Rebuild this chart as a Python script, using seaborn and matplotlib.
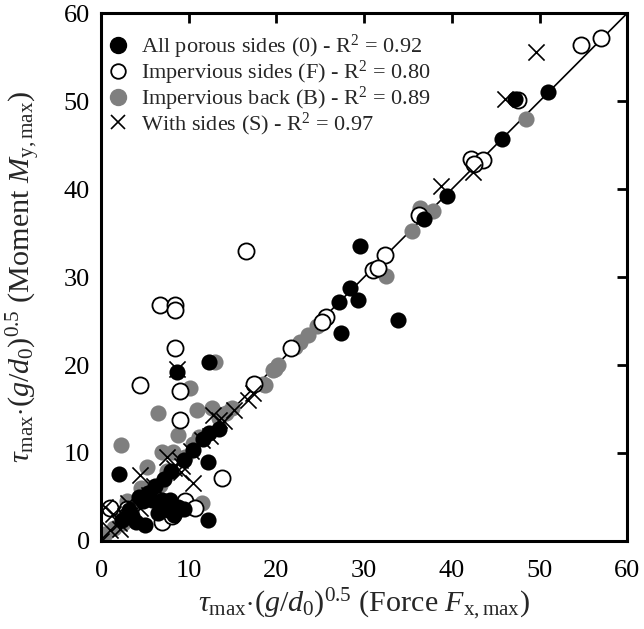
import matplotlib
matplotlib.use("Agg")
import matplotlib.pyplot as plt
import seaborn as sns
import pandas as pd
from matplotlib.lines import Line2D

sns.set_theme(style="white")
plt.rcParams["font.family"] = ["Liberation Serif", "DejaVu Serif"]
plt.rcParams["mathtext.fontset"] = "custom"
plt.rcParams["mathtext.rm"] = "Liberation Serif"
plt.rcParams["mathtext.it"] = "Liberation Serif:italic"
plt.rcParams["mathtext.bf"] = "Liberation Serif:bold"

# ---- data ----
porous_x = [51.0, 47.2, 45.7, 39.5, 36.8, 29.5, 28.4, 27.1, 29.3, 33.8, 27.4, 12.3, 8.6, 13.4, 12.2,
            2.0, 4.3, 5.4, 5.8, 6.9, 7.9, 8.8, 9.4, 12.2, 5.0, 3.5, 2.4, 4.8, 6.2, 7.2, 8.0, 9.5,
            10.5, 3.2, 6.5, 7.6, 4.0, 11.6, 12.3, 8.3]
porous_y = [51.0, 50.2, 45.7, 39.2, 36.6, 33.5, 28.8, 27.2, 27.4, 25.1, 23.6, 20.4, 19.2, 12.7, 9.0,
            7.6, 5.0, 5.4, 4.7, 4.7, 4.6, 3.9, 3.6, 2.4, 1.8, 2.8, 2.4, 4.5, 6.2, 7.0, 8.0, 9.2,
            10.3, 3.5, 3.2, 3.5, 2.2, 11.6, 12.3, 2.9]

impervious_x = [57.0, 54.7, 47.5, 42.2, 43.5, 42.5, 36.2, 32.4, 31.0, 31.6, 25.7, 25.2, 21.6, 17.4,
                16.5, 6.7, 8.4, 8.4, 8.4, 4.4, 9.0, 9.0, 13.8, 9.6, 10.7, 6.9, 8.1, 8.4, 1.0, 3.0]
impervious_y = [57.2, 56.4, 50.1, 43.4, 43.3, 42.8, 37.1, 32.5, 30.8, 31.0, 25.5, 24.9, 21.9, 17.9,
                33.0, 26.8, 26.8, 26.3, 21.9, 17.7, 17.0, 13.8, 7.2, 4.5, 3.8, 2.1, 2.8, 3.4, 3.8, 3.6]

back_x = [48.5, 36.4, 37.9, 35.5, 32.5, 24.6, 23.6, 22.7, 22.1, 20.2, 19.8, 18.5, 13.0, 10.1, 6.5,
          10.9, 12.6, 14.9, 8.8, 2.3, 6.9, 8.2, 5.2, 6.7, 11.5, 0.5, 1.5, 2.5, 3.5, 9.6, 10.5,
          11.2, 4.5, 3.0, 7.5, 13.5, 14.2, 18.7, 19.6]
back_y = [48.0, 37.8, 37.5, 35.2, 30.1, 24.4, 23.4, 22.6, 22.0, 20.0, 19.5, 17.9, 20.4, 17.4, 14.5,
          14.9, 15.1, 15.1, 12.0, 10.9, 10.1, 10.1, 8.4, 6.4, 4.3, 0.8, 1.5, 2.0, 3.7, 9.6, 11.0,
          11.8, 6.0, 4.5, 8.0, 14.0, 14.6, 17.7, 19.4]

sides_x = [49.6, 46.1, 42.4, 38.8, 17.3, 16.8, 15.1, 12.8, 8.6, 11.5, 12.4, 9.0, 9.2, 9.1, 7.5,
           4.4, 10.5, 0.5, 1.4, 3.1, 2.7, 0.0, 2.0, 3.5, 6.0, 8.3, 10.2, 13.5, 14.0, 1.0, 2.2, 5.5, 4.4]
sides_y = [55.6, 50.3, 41.9, 40.4, 16.8, 16.0, 14.9, 14.3, 19.5, 11.5, 11.9, 9.2, 8.5, 7.8, 9.6,
           7.5, 6.6, 3.9, 3.1, 4.3, 2.8, 0.0, 2.0, 3.2, 6.2, 8.3, 10.2, 13.8, 13.6, 1.2, 1.4, 5.2, 3.8]

labels = ["All porous sides (0) - R$^2$ = 0.92",
          "Impervious sides (F) - R$^2$ = 0.80",
          "Impervious back (B) - R$^2$ = 0.89",
          "With sides (S) - R$^2$ = 0.97"]

ticks = [0, 10, 20, 30, 40, 50, 60]

df_p = pd.DataFrame({"x": porous_x, "y": porous_y})
df_f = pd.DataFrame({"x": impervious_x, "y": impervious_y})
df_b = pd.DataFrame({"x": back_x, "y": back_y})
df_s = pd.DataFrame({"x": sides_x, "y": sides_y})

fig = plt.figure(figsize=(6.44, 6.29), dpi=100)
ax = fig.add_axes([0.157, 0.140, 0.817, 0.839])

GRAY = "#7f7f7f"
S = 135

ax.plot([0, 60], [0, 60], color="black", lw=1.2, zorder=1)
sns.scatterplot(data=df_b, x="x", y="y", ax=ax, s=S, color=GRAY, edgecolor=GRAY,
                linewidth=0, marker="o", zorder=2)
sns.scatterplot(data=df_f, x="x", y="y", ax=ax, s=S, facecolor="white", edgecolor="black",
                linewidth=1.3, marker="o", zorder=3)
sns.scatterplot(data=df_s, x="x", y="y", ax=ax, s=S, color="black",
                linewidth=1.2, marker="x", zorder=4)
sns.scatterplot(data=df_p, x="x", y="y", ax=ax, s=S, color="black", edgecolor="black",
                linewidth=0, marker="o", zorder=5)

ax.set_xlim(0, 60)
ax.set_ylim(0, 60)
ax.set_xticks(ticks)
ax.set_yticks(ticks)
ax.tick_params(direction="in", length=7, width=2, top=True, right=True,
               labelsize=19, colors="black")
ax.tick_params(axis="x", pad=14)
ax.tick_params(axis="y", pad=8)
for sp in ax.spines.values():
    sp.set_linewidth(2.2)
    sp.set_color("black")

ax.set_xlabel(r"$\tau_{\mathrm{max}}{\cdot}(g/d_0)^{0.5}$ (Force $F_{\mathrm{x,max}}$)", fontsize=21.7)
ax.set_ylabel(r"$\tau_{\mathrm{max}}{\cdot}(g/d_0)^{0.5}$ (Moment $M_{\mathrm{y,max}}$)", fontsize=21.7)
ax.xaxis.set_label_coords(0.5, -0.087)
ax.yaxis.set_label_coords(-0.11, 0.5)

handles = [
    Line2D([], [], ls="none", marker="o", markersize=11.5, markerfacecolor="black", markeredgecolor="black"),
    Line2D([], [], ls="none", marker="o", markersize=10.5, markerfacecolor="white", markeredgecolor="black", markeredgewidth=1.3),
    Line2D([], [], ls="none", marker="o", markersize=11.5, markerfacecolor=GRAY, markeredgecolor=GRAY),
    Line2D([], [], ls="none", marker="x", markersize=10, color="black", markeredgewidth=1.2),
]
ax.legend(handles, labels, loc="upper left", frameon=False, fontsize=16,
          handletextpad=0.55, labelspacing=-0.1, borderaxespad=0.2, handlelength=1.0,
          borderpad=0.3, bbox_to_anchor=(-0.01, 0.984))

fig.savefig("out.png", dpi=100)
